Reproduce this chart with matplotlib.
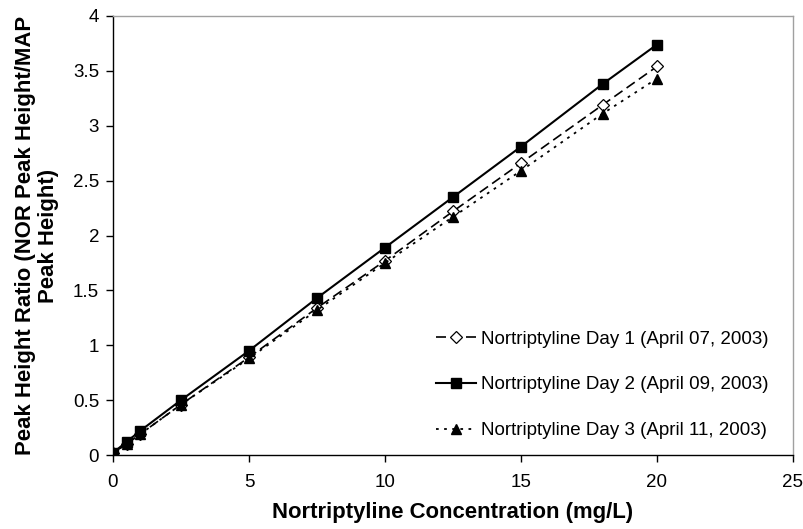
import matplotlib
matplotlib.use("Agg")
import matplotlib.pyplot as plt

plt.rcParams['font.family'] = ['Liberation Sans', 'DejaVu Sans']

conc = [0, 0.5, 1, 2.5, 5, 7.5, 10, 12.5, 15, 18, 20]
day1 = [0.02, 0.10, 0.19, 0.46, 0.89, 1.34, 1.77, 2.22, 2.66, 3.19, 3.54]
day2 = [0.02, 0.12, 0.22, 0.50, 0.95, 1.43, 1.89, 2.35, 2.81, 3.38, 3.74]
day3 = [0.02, 0.10, 0.19, 0.46, 0.88, 1.32, 1.75, 2.17, 2.59, 3.11, 3.43]
labels = ["Nortriptyline Day 1 (April 07, 2003)",
          "Nortriptyline Day 2 (April 09, 2003)",
          "Nortriptyline Day 3 (April 11, 2003)"]
xticks = [0, 5, 10, 15, 20, 25]
yticks = [0, 0.5, 1, 1.5, 2, 2.5, 3, 3.5, 4]

fig = plt.figure(figsize=(8.04, 5.29), dpi=100)
ax = fig.add_axes([113/804, 1 - 455/529, (793-113)/804, (455-16)/529])

ax.plot(conc, day1, color='black', lw=1.2, linestyle=(0, (6, 3)), marker='D',
        ms=6.5, mfc='white', mec='black', mew=0.9, label=labels[0])
ax.plot(conc, day2, color='black', lw=1.5, linestyle='-', marker='s',
        ms=7, mfc='black', mec='black', label=labels[1])
ax.plot(conc, day3, color='black', lw=1.3, linestyle=(0, (1.5, 3)), marker='^',
        ms=7.5, mfc='black', mec='black', label=labels[2])

ax.set_xlim(0, 25)
ax.set_ylim(0, 4)
ax.set_xticks(xticks)
ax.set_xticklabels([str(t) for t in xticks])
ax.set_yticks(yticks)
ax.set_yticklabels([f"{t:g}" for t in yticks])
ax.tick_params(direction='out', length=5, width=1, labelsize=13.5)
ax.tick_params(axis='x', pad=9)
ax.tick_params(axis='y', pad=5)

for s in ['top', 'right']:
    ax.spines[s].set_color('#a0a0a0')
    ax.spines[s].set_linewidth(1)
for s in ['left', 'bottom']:
    ax.spines[s].set_color('black')
    ax.spines[s].set_linewidth(1)

ax.set_xlabel("Nortriptyline Concentration (mg/L)", fontsize=15.9, fontweight='bold')
ax.xaxis.set_label_coords(0.5, (455 - 502) / 439)
ax.set_ylabel("Peak Height Ratio (NOR Peak Height/MAP\nPeak Height)", fontsize=15.9,
              fontweight='bold', linespacing=1.1)
ax.yaxis.set_label_coords((59 - 113) / 680, 0.5)

leg = ax.legend(loc='lower right', bbox_to_anchor=(0.988, 0.0), frameon=False,
                fontsize=13.5, handlelength=2.1, labelspacing=1.52,
                borderaxespad=0.45, handletextpad=0.3)

fig.savefig("out.png", dpi=100)
